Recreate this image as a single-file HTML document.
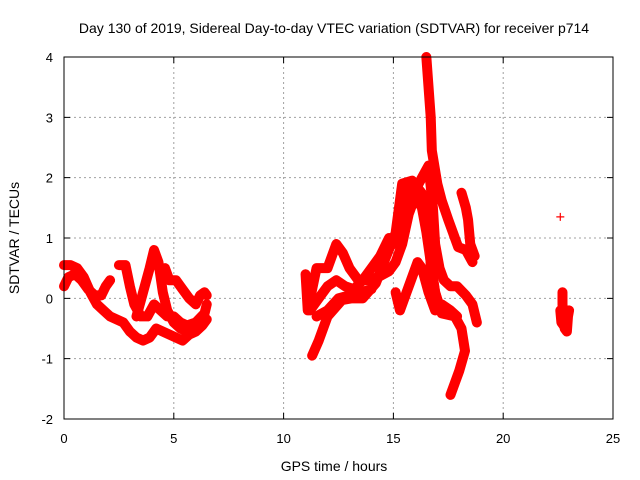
<!DOCTYPE html>
<html><head><meta charset="utf-8">
<style>
body{margin:0;background:#fff;}
svg{display:block;font-family:"Liberation Sans",sans-serif;}
</style></head>
<body>
<svg id="chart" width="640" height="480" viewBox="0 0 640 480">
<text x="334" y="33" font-size="14" text-anchor="middle">Day 130 of 2019, Sidereal Day-to-day VTEC variation (SDTVAR) for receiver p714</text>
<g id="grid"></g>
<g id="marks"></g>
<rect x="64" y="57" width="549" height="362" fill="none" stroke="#000" stroke-width="1"/>
<g id="ticks"></g>
<text x="334" y="471" font-size="14" text-anchor="middle">GPS time / hours</text>
<text transform="translate(19,238) rotate(-90)" font-size="14" text-anchor="middle">SDTVAR / TECUs</text>
</svg>
<script>
const xTicks=[0,5,10,15,20,25];
const yTicks=[-2,-1,0,1,2,3,4];
const track1=[[0,0.55],[0.3,0.55],[0.6,0.5],[0.9,0.35],[1.2,0.1],[1.5,-0.1],[1.8,-0.2],[2.1,-0.3],[2.4,-0.35],[2.7,-0.4],[3.0,-0.55],[3.3,-0.65],[3.6,-0.7],[3.9,-0.65],[4.2,-0.5],[4.5,-0.55],[4.8,-0.6],[5.1,-0.65],[5.4,-0.7],[5.7,-0.6],[6.0,-0.55],[6.3,-0.45],[6.5,-0.35]];
const track2=[[0,0.2],[0.2,0.35],[0.5,0.4],[0.8,0.3],[1.1,0.15],[1.4,0.05],[1.7,0.05],[1.9,0.2],[2.1,0.3]];
const track3=[[2.5,0.55],[2.8,0.55],[3.0,0.2],[3.2,-0.1],[3.5,-0.3],[3.8,-0.3],[4.1,-0.1],[4.4,-0.2],[4.7,-0.3],[5.0,-0.3],[5.3,-0.4],[5.6,-0.45],[6.0,-0.4],[6.4,-0.25],[6.5,-0.1]];
const track4=[[3.3,-0.3],[3.6,0.1],[3.9,0.5],[4.1,0.8],[4.3,0.6],[4.5,0.1],[4.7,-0.2],[5.0,-0.4],[5.3,-0.5],[5.6,-0.55]];
const track5=[[4.6,0.5],[4.8,0.3],[5.1,0.3],[5.4,0.15],[5.7,0.0],[6.0,-0.1],[6.2,0.05],[6.4,0.1],[6.5,0.05]];
const track6=[[11.3,-0.95],[11.6,-0.7],[12.0,-0.3],[12.65,-0.03],[13.1,0.0],[13.6,0.0],[14.2,0.25],[14.6,0.63],[15.1,1.08],[15.4,1.9],[15.85,1.95],[16.3,1.74],[16.6,1.18],[16.7,0.55],[16.9,0.1],[17.2,-0.25],[17.8,-0.3],[18.1,-0.5],[18.26,-0.87],[18.0,-1.2],[17.8,-1.4],[17.6,-1.6]];
const track7=[[16.5,4.0],[16.6,3.5],[16.7,3.0],[16.75,2.45],[17.0,1.9],[17.2,1.62],[17.5,1.3],[17.7,1.1],[17.95,0.85],[18.3,0.8],[18.6,0.6]];
const track8=[[18.1,1.75],[18.3,1.5],[18.4,1.3],[18.5,0.9],[18.7,0.7]];
const track9=[[15.2,1.2],[15.6,1.5],[16.0,1.8],[16.3,2.0],[16.6,2.2],[16.8,1.5],[16.9,0.9],[17.1,0.5],[17.3,0.3],[17.6,0.2],[17.9,0.2],[18.3,0.05],[18.6,-0.1],[18.8,-0.4]];
const track10=[[11.0,0.4],[11.1,-0.2],[11.5,0.5],[12.0,0.5],[12.4,0.9],[12.7,0.75],[13.0,0.5],[13.4,0.3],[13.8,0.3],[14.3,0.35],[14.8,0.45],[15.1,0.6],[15.4,0.9],[15.7,1.4],[16.0,1.7],[16.3,1.5],[16.5,1.1],[16.7,0.6],[16.9,0.1],[17.1,-0.15],[17.3,-0.2]];
const track11=[[15.1,0.1],[15.3,-0.2],[15.5,0.0],[15.8,0.3],[16.1,0.6],[16.3,0.5],[16.6,0.1],[16.9,-0.2],[17.2,-0.1],[17.6,-0.2],[17.9,-0.3]];
const track12=[[11.2,-0.2],[11.6,0.0],[12.0,0.2],[12.4,0.3],[12.8,0.2],[13.2,0.15],[13.6,0.3],[14.0,0.5],[14.4,0.7],[14.8,1.0],[15.0,0.9],[15.3,1.3],[15.5,1.7],[15.8,1.8],[16.1,1.6]];
const track13=[[11.5,-0.3],[12.0,-0.2],[12.5,0.0],[13.0,0.05],[13.5,0.1],[14.0,0.15]];
const track14=[[22.7,0.1],[22.7,-0.1],[22.75,-0.3],[22.8,-0.5],[22.9,-0.55],[22.95,-0.3],[23.0,-0.2]];
const track15=[[22.6,-0.2],[22.65,-0.4],[22.75,-0.45]];
const singles=[[22.6,1.35]];
const tracks=[track1,track2,track3,track4,track5,track6,track7,track8,track9,track10,track11,track12,track13,track14,track15];

const X0=64,X1=613,Y0=419,Y1=57,XMIN=0,XMAX=25,YMIN=-2,YMAX=4;
const sx=t=>X0+(t-XMIN)/(XMAX-XMIN)*(X1-X0);
const sy=v=>Y0-(v-YMIN)/(YMAX-YMIN)*(Y0-Y1);
const NS="http://www.w3.org/2000/svg";
function mk(tag,attrs,parent){const e=document.createElementNS(NS,tag);for(const k in attrs)e.setAttribute(k,attrs[k]);parent.appendChild(e);return e;}
const grid=document.getElementById('grid'),ticks=document.getElementById('ticks'),marks=document.getElementById('marks');
xTicks.forEach(t=>{
  const x=sx(t);
  if(t>XMIN&&t<XMAX){const g=mk('line',{x1:x,x2:x,y1:Y1,y2:Y0,stroke:'#a0a0a0','stroke-dasharray':'2,3'},grid);
  
  }
  const tk=mk('path',{d:`M${x},${Y0}v-6M${x},${Y1}v6`,stroke:'#000'},ticks);
  
  
  const l=mk('text',{x:x,y:443,'font-size':13,'text-anchor':'middle'},ticks);l.textContent=t;
  
  
});
yTicks.forEach(v=>{
  const y=sy(v);
  if(v>YMIN&&v<YMAX){const g=mk('line',{x1:X0,x2:X1,y1:y,y2:y,stroke:'#a0a0a0','stroke-dasharray':'2,3'},grid);
  
  }
  const tk=mk('path',{d:`M${X0},${y}h6M${X1},${y}h-6`,stroke:'#000'},ticks);
  
  
  const l=mk('text',{x:53,y:y+5,'font-size':13,'text-anchor':'end'},ticks);l.textContent=v;
  
  
});
tracks.forEach(tr=>{
  const p=mk('polyline',{points:tr.map(d=>sx(d[0])+','+sy(d[1])).join(' '),fill:'none',stroke:'#ff0000','stroke-width':10,'stroke-linejoin':'round','stroke-linecap':'round'},marks);
  
  
});
tracks.concat([singles]).forEach(tr=>tr.forEach(d=>{
  const x=sx(d[0]),y=sy(d[1]);
  const m=mk('path',{d:`M${x-4},${y}h8M${x},${y-4}v8`,stroke:'#ff0000','stroke-width':1.2},marks);
  
  
}));
</script>
</body></html>
